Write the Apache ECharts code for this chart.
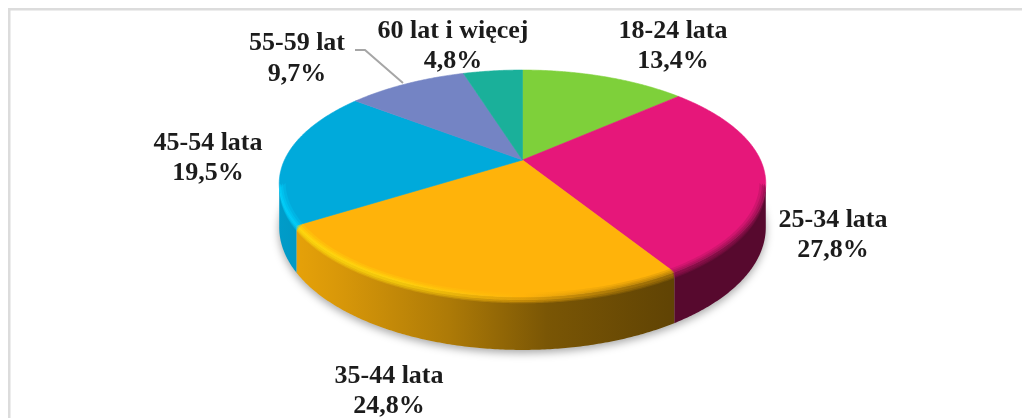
<!DOCTYPE html>
<html>
<head>
<meta charset="utf-8">
<style>html,body{margin:0;padding:0;background:#fff}#chart{width:1022px;height:418px}</style>
<script src="https://cdn.jsdelivr.net/npm/echarts@6/dist/echarts.min.js"></script>
</head>
<body>
<div id="chart"></div>
<script>
// data
const categories = ['18-24 lata', '25-34 lata', '35-44 lata', '45-54 lata', '55-59 lat', '60 lat i więcej'];
const shares = [13.4, 27.8, 24.8, 19.5, 9.7, 4.8];
const colors = ['#7ed03a', '#e6177a', '#ffb30a', '#00aadb', '#7484c4', '#1ab09a'];
// label centres, in pixels
const labelX = [673, 833, 389, 208, 297, 453];
const labelY = [46.5, 235.5, 391.5, 158.5, 59, 46.5];
const leaderLine = [[355, 50], [365, 50], [403, 83]];

// tilted disc: a circle seen through a perspective projection
const cx = 522.5, cy = 160, radiusX = 238, radiusY = 108.6, tilt = 0.2071, depth = 42;
const total = shares.reduce((a, b) => a + b, 0);

function project(deg, drop, scale) {
    const a = deg * Math.PI / 180;
    const s = scale === undefined ? 1 : scale;
    const u = s * Math.sin(a), v = -s * Math.cos(a);
    const d = 1 - tilt * v;
    return [cx + radiusX * u / d, cy + radiusY * v / d + drop / d];
}
function frontVisible(deg) {
    return -Math.cos(deg * Math.PI / 180) >= tilt;
}
function arc(from, to, drop, onlyFront, scale) {
    const pts = [];
    const steps = Math.max(2, Math.ceil((to - from) * 2));
    for (let i = 0; i <= steps; i++) {
        const deg = from + (to - from) * i / steps;
        if (!onlyFront || frontVisible(deg)) pts.push(project(deg, drop, scale));
    }
    return pts;
}
function shade(hex, gain) {
    const n = parseInt(hex.slice(1), 16);
    const c = [n >> 16, (n >> 8) & 255, n & 255].map(x => Math.min(255, Math.round(x * gain)));
    return 'rgb(' + c.join(',') + ')';
}
// horizontal light falloff across the pie
function sideFill(hex, stops) {
    return new echarts.graphic.LinearGradient(279, 0, 766, 0,
        stops.map(s => ({offset: s[0], color: shade(hex, s[1])})), true);
}
const sideLight = [[0, 0.92], [0.12, 0.85], [0.35, 0.68], [0.55, 0.48], [0.8, 0.38], [1, 0.38]];
const rimLight = [[0, 1.25], [0.25, 1.2], [0.5, 1.0], [0.72, 0.72], [1, 0.6]];
// inner scale, drop below the rim, opacity
const bevelLayers = [[0.975, 5, 0.25], [0.985, 4, 0.35], [0.993, 2.5, 0.5]];

function sliceAngles(index) {
    let before = 0;
    for (let i = 0; i < index; i++) before += shares[i];
    return [before / total * 360, (before + shares[index]) / total * 360];
}

const sliceData = shares.map((v, i) => [v, i]);

const option = {
    backgroundColor: '#fff',
    animation: false,
    graphic: [
        {type: 'rect', shape: {x: 8, y: 8, width: 1014, height: 2.5}, style: {fill: '#dcdcdc'}, silent: true},
        {type: 'rect', shape: {x: 8, y: 8, width: 2.5, height: 410}, style: {fill: '#dcdcdc'}, silent: true},
        {type: 'polyline', shape: {points: leaderLine}, style: {fill: null, stroke: '#a6a6a6', lineWidth: 2}, silent: true, z: 10}
    ],
    series: [
        {
            // soft shadow under the disc
            type: 'custom', coordinateSystem: 'none', silent: true, z: 1,
            data: [[total]],
            renderItem: function () {
                return {
                    type: 'polygon',
                    shape: {points: arc(0, 360, depth, false)},
                    style: {fill: '#cfcfcf', shadowBlur: 9, shadowColor: 'rgba(0,0,0,0.35)', shadowOffsetY: 3}
                };
            }
        },
        {
            // outer walls
            type: 'custom', coordinateSystem: 'none', silent: true, z: 2,
            data: sliceData,
            renderItem: function (params, api) {
                const i = api.value(1);
                const [from, to] = sliceAngles(i);
                const top = arc(from, to, 0, true);
                if (top.length < 2) return {type: 'group', children: []};
                const bottom = arc(from, to, depth, true).reverse();
                return {
                    type: 'polygon',
                    shape: {points: top.concat(bottom)},
                    style: {fill: sideFill(colors[i], sideLight)}
                };
            }
        },
        {
            // top faces
            type: 'custom', coordinateSystem: 'none', silent: true, z: 3,
            data: sliceData,
            renderItem: function (params, api) {
                const i = api.value(1);
                const [from, to] = sliceAngles(i);
                return {
                    type: 'polygon',
                    shape: {points: [[cx, cy]].concat(arc(from, to, 0, false))},
                    style: {fill: colors[i], stroke: colors[i], lineWidth: 0.6}
                };
            }
        },
        {
            // bevel along the front rim
            type: 'custom', coordinateSystem: 'none', silent: true, z: 4,
            data: sliceData,
            renderItem: function (params, api) {
                const i = api.value(1);
                const [from, to] = sliceAngles(i);
                if (arc(from, to, 0, true).length < 2) return {type: 'group', children: []};
                return {
                    type: 'group',
                    children: bevelLayers.map(l => ({
                        type: 'polygon',
                        shape: {points: arc(from, to, 0, true, l[0]).concat(arc(from, to, l[1], true).reverse())},
                        style: {fill: sideFill(colors[i], rimLight), opacity: l[2]}
                    }))
                };
            }
        },
        {
            // labels
            type: 'custom', coordinateSystem: 'none', silent: true, z: 5,
            data: sliceData,
            renderItem: function (params, api) {
                const i = api.value(1);
                return {
                    type: 'text',
                    x: labelX[i], y: labelY[i],
                    style: {
                        text: categories[i] + '\n' + api.value(0).toFixed(1).replace('.', ',') + '%',
                        font: 'bold 26px "Liberation Serif"',
                        fill: '#1c1c1c',
                        align: 'center',
                        verticalAlign: 'middle',
                        lineHeight: 30.5
                    }
                };
            }
        }
    ]
};

const chart = echarts.init(document.getElementById('chart'));
chart.setOption(option);
</script>
</body>
</html>
